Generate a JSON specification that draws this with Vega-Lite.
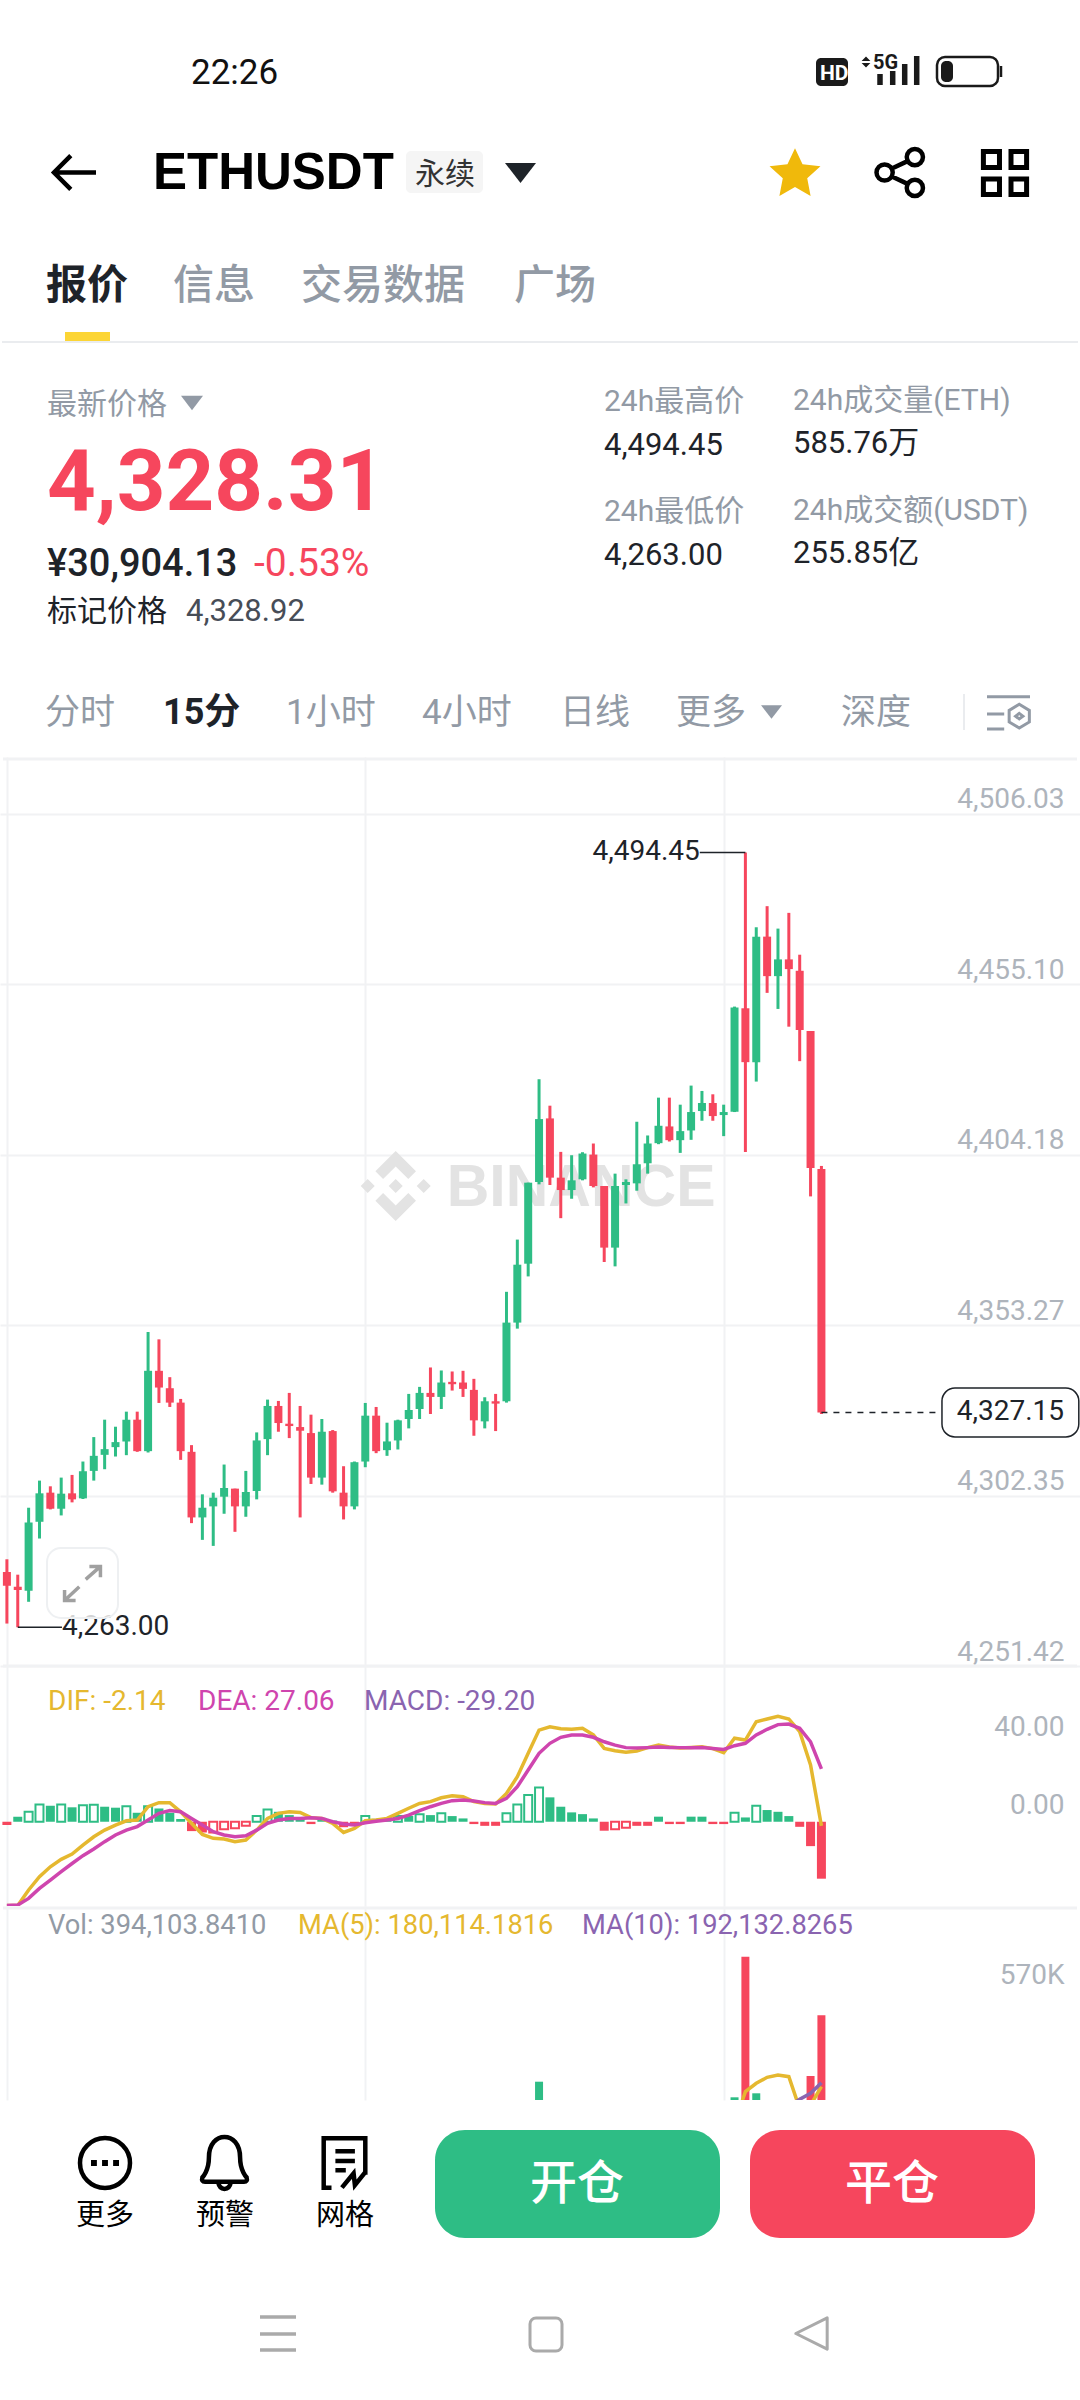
{
"$schema":"https://vega.github.io/schema/vega-lite/v6.json",
"padding":0,
"bounds":"flush",
"spacing":0,
"background":"white",
"config":{
  "view":{"stroke":null},
  "text":{"font":"Roboto, 'Noto Sans CJK SC'","align":"left","baseline":"alphabetic"},
  "axis":{"labelFont":"Roboto","labelFontSize":28,"labelColor":"#AEB4BC","gridColor":"#F1F2F4","gridWidth":2,"ticks":false,"domain":false,"labelAlign":"right","labelPadding":-16,"labelBaseline":"alphabetic","grid":false}
},
"vconcat":[
{
"width":1080,"height":757,
"data":{"values":[{}]},
"layer":[
{"mark":{"type":"text","text":"22:26","x":191,"y":84,"fontSize":35,"color":"#111111"}},
{"mark":{"type":"rect","color":"#1A1A1A","cornerRadius":5},"encoding":{"x":{"value":816},"x2":{"value":848},"y":{"value":58},"y2":{"value":86}}},
{"mark":{"type":"text","text":"HD","x":820,"y":80,"fontSize":21,"fontWeight":"bold","color":"white"}},
{"mark":{"type":"point","shape":"M0 -1 L.8 -.2 H-.8 Z M0 1 L.8 .2 H-.8 Z","size":120,"x":866,"y":62,"filled":true,"color":"#1A1A1A","opacity":1}},
{"mark":{"type":"text","text":"5G","x":873,"y":69,"fontSize":20,"fontWeight":"bold","color":"#1A1A1A"}},
{"mark":{"type":"rule","strokeWidth":5.5,"color":"#1A1A1A"},"encoding":{"x":{"value":880},"y":{"value":74},"y2":{"value":85}}},
{"mark":{"type":"rule","strokeWidth":5.5,"color":"#1A1A1A"},"encoding":{"x":{"value":892.7},"y":{"value":71},"y2":{"value":85}}},
{"mark":{"type":"rule","strokeWidth":5.5,"color":"#1A1A1A"},"encoding":{"x":{"value":904.7},"y":{"value":64},"y2":{"value":85}}},
{"mark":{"type":"rule","strokeWidth":5.5,"color":"#1A1A1A"},"encoding":{"x":{"value":916.7},"y":{"value":56},"y2":{"value":85}}},
{"mark":{"type":"rect","fill":"white","stroke":"#1A1A1A","strokeWidth":2.5,"cornerRadius":8},"encoding":{"x":{"value":937},"x2":{"value":998},"y":{"value":57},"y2":{"value":86}}},
{"mark":{"type":"rect","color":"#1A1A1A","cornerRadius":5},"encoding":{"x":{"value":941},"x2":{"value":953},"y":{"value":61},"y2":{"value":82}}},
{"mark":{"type":"rule","strokeWidth":2.5,"color":"#1A1A1A"},"encoding":{"x":{"value":1001},"y":{"value":66},"y2":{"value":77}}},

{"mark":{"type":"point","shape":"M1 0 L-1 0 M-.2 -.8 L-1 0 L-.2 .8","size":1764,"x":75,"y":172.5,"filled":false,"color":"#000000","strokeWidth":4.5,"opacity":1}},
{"mark":{"type":"text","text":"ETHUSDT","x":153,"y":189,"fontSize":51,"fontWeight":"bold","color":"#000000","font":"Liberation Sans"}},
{"mark":{"type":"rect","color":"#F5F5F5","cornerRadius":5},"encoding":{"x":{"value":406},"x2":{"value":483},"y":{"value":151},"y2":{"value":193}}},
{"mark":{"type":"text","text":"永续","x":415,"y":184,"fontSize":30,"color":"#333333"}},
{"mark":{"type":"point","shape":"M-1 -.65 L1 -.65 L0 .65 Z","size":961,"x":520.5,"y":173,"filled":true,"color":"#1E2329","opacity":1}},
{"mark":{"type":"point","shape":"M0 -.95 L.29 -.34 L.98 -.26 L.47 .2 L.6 .88 L0 .54 L-.6 .88 L-.47 .2 L-.98 -.26 L-.29 -.34 Z","size":2704,"x":795,"y":173,"filled":true,"color":"#F0B90B","opacity":1}},
{"mark":{"type":"point","shape":"M-.27 0 A.3 .3 0 1 1 -.87 0 A.3 .3 0 1 1 -.27 0 Z M.85 -.57 A.3 .3 0 1 1 .25 -.57 A.3 .3 0 1 1 .85 -.57 Z M.85 .57 A.3 .3 0 1 1 .25 .57 A.3 .3 0 1 1 .85 .57 Z M-.32 -.14 L.3 -.43 M-.32 .14 L.3 .43","size":2916,"x":900,"y":172.5,"filled":false,"color":"#000000","strokeWidth":4.5,"opacity":1}},
{"mark":{"type":"point","shape":"M-.9 -.9 H-.23 V-.23 H-.9 Z M.25 -.9 H.9 V-.23 H.25 Z M-.9 .25 H-.23 V.9 H-.9 Z M.25 .25 H.9 V.9 H.25 Z","size":2304,"x":1005,"y":173,"filled":false,"color":"#000000","strokeWidth":5,"opacity":1}},

{"mark":{"type":"text","text":"报价","x":46,"y":299,"fontSize":41,"fontWeight":"bold","color":"#1E2329"}},
{"mark":{"type":"text","text":"信息","x":173,"y":299,"fontSize":41,"fontWeight":500,"color":"#929AA5"}},
{"mark":{"type":"text","text":"交易数据","x":301,"y":299,"fontSize":41,"fontWeight":500,"color":"#929AA5"}},
{"mark":{"type":"text","text":"广场","x":514,"y":299,"fontSize":41,"fontWeight":500,"color":"#929AA5"}},
{"mark":{"type":"rect","color":"#FCD535"},"encoding":{"x":{"value":65},"x2":{"value":110},"y":{"value":332},"y2":{"value":342}}},
{"mark":{"type":"rule","color":"#EAECEF","strokeWidth":2},"encoding":{"x":{"value":2},"x2":{"value":1078},"y":{"value":342}}},

{"mark":{"type":"text","text":"最新价格","x":47,"y":414,"fontSize":30,"color":"#929AA5"}},
{"mark":{"type":"point","shape":"M-1 -.65 L1 -.65 L0 .65 Z","size":484,"x":192,"y":403,"filled":true,"color":"#929AA5","opacity":1}},
{"mark":{"type":"text","text":"4,328.31","x":47,"y":510,"fontSize":85,"fontWeight":"bold","color":"#F6465D"}},
{"mark":{"type":"text","text":"¥30,904.13","x":47,"y":576,"fontSize":38,"fontWeight":500,"color":"#1E2329"}},
{"mark":{"type":"text","text":"-0.53%","x":254,"y":576,"fontSize":39,"color":"#F6465D"}},
{"mark":{"type":"text","text":"标记价格","x":47,"y":621,"fontSize":30,"color":"#1E2329"}},
{"mark":{"type":"text","text":"4,328.92","x":186,"y":621,"fontSize":31,"color":"#474D57"}},
{"mark":{"type":"text","text":"24h最高价","x":604,"y":411,"fontSize":30,"color":"#929AA5"}},
{"mark":{"type":"text","text":"4,494.45","x":604,"y":455,"fontSize":31,"color":"#1E2329"}},
{"mark":{"type":"text","text":"24h成交量(ETH)","x":793,"y":410,"fontSize":30,"color":"#929AA5"}},
{"mark":{"type":"text","text":"585.76万","x":793,"y":453,"fontSize":31,"color":"#1E2329"}},
{"mark":{"type":"text","text":"24h最低价","x":604,"y":521,"fontSize":30,"color":"#929AA5"}},
{"mark":{"type":"text","text":"4,263.00","x":604,"y":565,"fontSize":31,"color":"#1E2329"}},
{"mark":{"type":"text","text":"24h成交额(USDT)","x":793,"y":520,"fontSize":30,"color":"#929AA5"}},
{"mark":{"type":"text","text":"255.85亿","x":793,"y":563,"fontSize":31,"color":"#1E2329"}},

{"mark":{"type":"text","text":"分时","x":45,"y":724,"fontSize":35,"color":"#929AA5"}},
{"mark":{"type":"text","text":"15分","x":163,"y":724,"fontSize":36,"fontWeight":"bold","color":"#1E2329"}},
{"mark":{"type":"text","text":"1小时","x":286,"y":724,"fontSize":35,"color":"#929AA5"}},
{"mark":{"type":"text","text":"4小时","x":422,"y":724,"fontSize":35,"color":"#929AA5"}},
{"mark":{"type":"text","text":"日线","x":560,"y":724,"fontSize":35,"color":"#929AA5"}},
{"mark":{"type":"text","text":"更多","x":676,"y":724,"fontSize":35,"color":"#929AA5"}},
{"mark":{"type":"point","shape":"M-1 -.65 L1 -.65 L0 .65 Z","size":441,"x":771.5,"y":712,"filled":true,"color":"#929AA5","opacity":1}},
{"mark":{"type":"text","text":"深度","x":841,"y":724,"fontSize":35,"color":"#929AA5"}},
{"mark":{"type":"rule","color":"#EAECEF","strokeWidth":2},"encoding":{"x":{"value":964},"y":{"value":694},"y2":{"value":730}}},
{"mark":{"type":"point","shape":"M-1 -.8 H1 M-1 0 H-.2 M-1 .7 H-.2 M.5 -.45 L.97 -.17 L.97 .37 L.5 .65 L.03 .37 L.03 -.17 Z M.5 -.03 L.67 .1 L.5 .23 L.33 .1 Z","size":1849,"x":1008.5,"y":714,"filled":false,"color":"#929AA5","strokeWidth":3,"opacity":1}}
]
},
{
"width":1080,"height":909,
"data":{"values":[
{"i":0,"open":4279.5,"high":4283.3,"low":4264.1,"close":4275.4},
{"i":1,"open":4275.1,"high":4278.7,"low":4263.0,"close":4274.1},
{"i":2,"open":4273.9,"high":4298.7,"low":4270.6,"close":4294.3},
{"i":3,"open":4294.5,"high":4306.8,"low":4289.5,"close":4303.0},
{"i":4,"open":4303.2,"high":4305.1,"low":4298.2,"close":4298.4},
{"i":5,"open":4298.4,"high":4307.7,"low":4296.4,"close":4302.9},
{"i":6,"open":4303.0,"high":4308.5,"low":4300.3,"close":4301.2},
{"i":7,"open":4301.5,"high":4312.5,"low":4301.3,"close":4309.6},
{"i":8,"open":4309.7,"high":4319.8,"low":4306.8,"close":4314.2},
{"i":9,"open":4314.5,"high":4325.0,"low":4310.2,"close":4316.2},
{"i":10,"open":4316.8,"high":4322.9,"low":4314.0,"close":4318.3},
{"i":11,"open":4318.5,"high":4327.4,"low":4314.4,"close":4325.0},
{"i":12,"open":4325.0,"high":4327.4,"low":4315.4,"close":4315.6},
{"i":13,"open":4315.6,"high":4351.2,"low":4315.2,"close":4339.6},
{"i":14,"open":4339.6,"high":4349.0,"low":4330.0,"close":4334.6},
{"i":15,"open":4334.4,"high":4337.7,"low":4328.8,"close":4330.1},
{"i":16,"open":4330.1,"high":4331.2,"low":4313.0,"close":4315.6},
{"i":17,"open":4315.4,"high":4317.4,"low":4294.1,"close":4295.8},
{"i":18,"open":4295.8,"high":4302.7,"low":4289.1,"close":4298.7},
{"i":19,"open":4299.1,"high":4303.2,"low":4287.3,"close":4301.7},
{"i":20,"open":4302.0,"high":4311.6,"low":4296.9,"close":4304.6},
{"i":21,"open":4304.4,"high":4304.4,"low":4291.5,"close":4299.1},
{"i":22,"open":4299.1,"high":4309.7,"low":4296.0,"close":4303.4},
{"i":23,"open":4303.7,"high":4321.2,"low":4301.2,"close":4318.8},
{"i":24,"open":4319.2,"high":4331.0,"low":4314.4,"close":4329.1},
{"i":25,"open":4329.1,"high":4330.6,"low":4321.4,"close":4324.0},
{"i":26,"open":4323.8,"high":4333.0,"low":4319.5,"close":4323.1},
{"i":27,"open":4322.8,"high":4329.1,"low":4295.8,"close":4321.7},
{"i":28,"open":4321.0,"high":4326.5,"low":4305.8,"close":4307.7},
{"i":29,"open":4307.7,"high":4325.2,"low":4305.6,"close":4321.4},
{"i":30,"open":4321.6,"high":4321.9,"low":4303.2,"close":4303.6},
{"i":31,"open":4303.2,"high":4311.1,"low":4295.2,"close":4299.1},
{"i":32,"open":4299.1,"high":4312.5,"low":4298.2,"close":4312.3},
{"i":33,"open":4312.5,"high":4330.0,"low":4310.8,"close":4326.2},
{"i":34,"open":4326.2,"high":4328.8,"low":4315.0,"close":4315.6},
{"i":35,"open":4315.9,"high":4324.1,"low":4314.2,"close":4318.5},
{"i":36,"open":4318.8,"high":4325.0,"low":4316.1,"close":4324.8},
{"i":37,"open":4325.2,"high":4332.7,"low":4322.4,"close":4327.9},
{"i":38,"open":4328.2,"high":4334.8,"low":4325.2,"close":4333.0},
{"i":39,"open":4333.0,"high":4340.6,"low":4326.7,"close":4331.8},
{"i":40,"open":4331.8,"high":4339.7,"low":4328.2,"close":4336.1},
{"i":41,"open":4336.3,"high":4339.4,"low":4333.7,"close":4335.6},
{"i":42,"open":4336.1,"high":4339.6,"low":4331.8,"close":4334.2},
{"i":43,"open":4333.9,"high":4337.2,"low":4320.2,"close":4324.8},
{"i":44,"open":4324.5,"high":4331.7,"low":4322.4,"close":4330.5},
{"i":45,"open":4330.5,"high":4332.7,"low":4321.6,"close":4329.8},
{"i":46,"open":4330.5,"high":4363.2,"low":4330.1,"close":4354.0},
{"i":47,"open":4354.0,"high":4378.8,"low":4352.2,"close":4371.3},
{"i":48,"open":4371.6,"high":4395.8,"low":4367.8,"close":4395.8},
{"i":49,"open":4396.0,"high":4426.7,"low":4395.3,"close":4414.8},
{"i":50,"open":4415.0,"high":4418.8,"low":4395.1,"close":4397.3},
{"i":51,"open":4397.3,"high":4405.0,"low":4385.2,"close":4393.6},
{"i":52,"open":4393.6,"high":4404.0,"low":4391.0,"close":4396.5},
{"i":53,"open":4396.8,"high":4404.9,"low":4396.5,"close":4404.5},
{"i":54,"open":4404.2,"high":4407.5,"low":4394.4,"close":4394.8},
{"i":55,"open":4394.8,"high":4394.8,"low":4372.1,"close":4376.4},
{"i":56,"open":4376.4,"high":4398.5,"low":4370.8,"close":4394.8},
{"i":57,"open":4395.1,"high":4396.8,"low":4389.6,"close":4396.0},
{"i":58,"open":4395.6,"high":4414.0,"low":4393.4,"close":4401.3},
{"i":59,"open":4401.6,"high":4409.9,"low":4398.5,"close":4407.5},
{"i":60,"open":4407.6,"high":4421.2,"low":4407.3,"close":4412.8},
{"i":61,"open":4412.6,"high":4421.2,"low":4408.1,"close":4408.5},
{"i":62,"open":4408.5,"high":4419.1,"low":4404.7,"close":4411.2},
{"i":63,"open":4411.4,"high":4424.8,"low":4408.6,"close":4416.9},
{"i":64,"open":4417.2,"high":4423.2,"low":4414.3,"close":4419.6},
{"i":65,"open":4419.6,"high":4422.2,"low":4414.3,"close":4415.7},
{"i":66,"open":4416.0,"high":4419.1,"low":4409.7,"close":4416.9},
{"i":67,"open":4417.0,"high":4448.4,"low":4416.9,"close":4448.1},
{"i":68,"open":4447.9,"high":4494.45,"low":4405.0,"close":4431.8},
{"i":69,"open":4431.8,"high":4472.1,"low":4426.0,"close":4469.3},
{"i":70,"open":4469.3,"high":4478.4,"low":4452.5,"close":4457.5},
{"i":71,"open":4457.5,"high":4471.7,"low":4447.7,"close":4462.5},
{"i":72,"open":4462.5,"high":4476.4,"low":4442.4,"close":4459.6},
{"i":73,"open":4459.1,"high":4463.9,"low":4432.1,"close":4441.4},
{"i":74,"open":4441.1,"high":4441.1,"low":4391.7,"close":4400.2},
{"i":75,"open":4399.9,"high":4400.8,"low":4326.7,"close":4327.15}
]},
"encoding":{"x":{"field":"i","type":"quantitative","title":null,"scale":{"domain":[-0.635,98.81],"nice":false,"zero":false,"padding":0},"axis":{"values":[0,33,66],"grid":true,"labels":false}}},
"layer":[
{"mark":{"type":"rule","color":"#F1F2F4","strokeWidth":3},"data":{"values":[{}]},"encoding":{"x":{"value":3},"x2":{"value":1077},"y":{"value":2}}},
{"mark":{"type":"rule","color":"#F1F2F4","strokeWidth":3},"data":{"values":[{}]},"encoding":{"x":{"value":3},"x2":{"value":1077},"y":{"value":909}}},
{"data":{"values":[{"i":35.8,"price":4394.8}]},
 "mark":{"type":"point","shape":"M0 -.2 L.2 0 L0 .2 L-.2 0 Z M-.8 -.2 L-.6 0 L-.8 .2 L-1 0 Z M.8 -.2 L1 0 L.8 .2 L.6 0 Z M0 -1 L.58 -.42 L.36 -.2 L0 -.56 L-.36 -.2 L-.58 -.42 Z M0 1 L.58 .42 L.36 .2 L0 .56 L-.36 .2 L-.58 .42 Z","size":4900,"filled":true,"color":"#E3E3E3","opacity":1},
 "encoding":{"y":{"field":"price","type":"quantitative","title":null,"scale":{"domain":[4251.42,4522.96],"nice":false,"zero":false}}}},
{"data":{"values":[{"i":40.5,"price":4388.9,"label":"BINANCE"}]},
 "mark":{"type":"text","fontSize":59,"fontWeight":"bold","color":"#E3E3E3","font":"Liberation Sans"},
 "encoding":{"y":{"field":"price","type":"quantitative","title":null,"scale":{"domain":[4251.42,4522.96],"nice":false,"zero":false}},"text":{"field":"label"}}},
{"mark":{"type":"rule","strokeWidth":3},
 "encoding":{"y":{"field":"high","type":"quantitative","title":null,"scale":{"domain":[4251.42,4522.96],"nice":false,"zero":false},"axis":{"orient":"right","values":[4251.42,4302.35,4353.27,4404.18,4455.10,4506.03],"format":",.2f","grid":true,"labelOffset":-6}},"y2":{"field":"low"},
  "color":{"condition":{"test":"datum.close<datum.open","value":"#F6465D"},"value":"#2EBD85"}}},
{"mark":{"type":"bar","size":8,"orient":"vertical"},
 "encoding":{"y":{"field":"open","type":"quantitative","title":null,"scale":{"domain":[4251.42,4522.96],"nice":false,"zero":false}},"y2":{"field":"close"},
  "color":{"condition":{"test":"datum.close<datum.open","value":"#F6465D"},"value":"#2EBD85"}}},
{"data":{"values":[{"i":68,"end":63.8,"price":4494.45,"label":"4,494.45"},{"i":1,"end":5.07,"price":4263.00,"label":"4,263.00"}]},
 "mark":{"type":"rule","color":"#1E2329","strokeWidth":1.5},
 "encoding":{"x2":{"field":"end"},"y":{"field":"price","type":"quantitative","title":null,"scale":{"domain":[4251.42,4522.96],"nice":false,"zero":false}}}},
{"data":{"values":[{"end":63.8,"price":4494.45,"label":"4,494.45"}]},
 "mark":{"type":"text","align":"right","baseline":"middle","fontSize":28,"color":"#1E2329","font":"Roboto"},
 "encoding":{"x":{"field":"end","type":"quantitative","title":null,"scale":{"domain":[-0.635,98.81],"nice":false,"zero":false,"padding":0}},"y":{"field":"price","type":"quantitative","title":null,"scale":{"domain":[4251.42,4522.96],"nice":false,"zero":false}},"text":{"field":"label"}}},
{"data":{"values":[{"end":5.07,"price":4263.00,"label":"4,263.00"}]},
 "mark":{"type":"text","align":"left","baseline":"middle","fontSize":28,"color":"#1E2329","font":"Roboto"},
 "encoding":{"x":{"field":"end","type":"quantitative","title":null,"scale":{"domain":[-0.635,98.81],"nice":false,"zero":false,"padding":0}},"y":{"field":"price","type":"quantitative","title":null,"scale":{"domain":[4251.42,4522.96],"nice":false,"zero":false}},"text":{"field":"label"}}},
{"data":{"values":[{"i":75,"end":86.0,"price":4327.15}]},
 "mark":{"type":"rule","color":"#1E2329","strokeWidth":1.5,"strokeDash":[6,6]},
 "encoding":{"x2":{"field":"end"},"y":{"field":"price","type":"quantitative","title":null,"scale":{"domain":[4251.42,4522.96],"nice":false,"zero":false}}}},
{"data":{"values":[{"i":86.1,"end":98.7,"top":4334.45,"bottom":4319.85}]},
 "mark":{"type":"rect","fill":"white","stroke":"#1E2329","strokeWidth":1.5,"cornerRadius":13},
 "encoding":{"x2":{"field":"end"},"y":{"field":"top","type":"quantitative","title":null,"scale":{"domain":[4251.42,4522.96],"nice":false,"zero":false}},"y2":{"field":"bottom"}}},
{"data":{"values":[{"end":97.34,"price":4327.15,"label":"4,327.15"}]},
 "mark":{"type":"text","align":"right","baseline":"middle","fontSize":28,"color":"#1E2329","font":"Roboto"},
 "encoding":{"x":{"field":"end","type":"quantitative","title":null,"scale":{"domain":[-0.635,98.81],"nice":false,"zero":false,"padding":0}},"y":{"field":"price","type":"quantitative","title":null,"scale":{"domain":[4251.42,4522.96],"nice":false,"zero":false}},"text":{"field":"label"}}},
{"data":{"values":[{}]},
 "mark":{"type":"rect","fill":"white","fillOpacity":0.8,"stroke":"#EEF0F2","strokeWidth":2,"cornerRadius":14},
 "encoding":{"x":{"value":47},"x2":{"value":118},"y":{"value":791},"y2":{"value":861}}},
{"data":{"values":[{}]},
 "mark":{"type":"point","shape":"M.14 -.16 L.78 -.72 M.3 -.72 H.78 V-.25 M-.14 .16 L-.78 .76 M-.78 .3 V.76 H-.3","size":2116,"filled":false,"color":"#A0A0A0","strokeWidth":3.5,"opacity":1},
 "encoding":{"x":{"value":82.5},"y":{"value":826}}}
]
},
{
"width":1080,"height":240,
"data":{"values":[
{"i":0,"dif":-43,"dea":-43,"macd":-1.7,"rising":false},
{"i":1,"dif":-43,"dea":-42.7,"macd":2.6,"rising":false},
{"i":2,"dif":-35,"dea":-39.3,"macd":5.1,"rising":true},
{"i":3,"dif":-28.2,"dea":-34.2,"macd":8.9,"rising":true},
{"i":4,"dif":-23.1,"dea":-29.9,"macd":8.2,"rising":false},
{"i":5,"dif":-19.3,"dea":-25.6,"macd":8.9,"rising":true},
{"i":6,"dif":-16.6,"dea":-21.4,"macd":7.4,"rising":false},
{"i":7,"dif":-12,"dea":-17.4,"macd":8.5,"rising":true},
{"i":8,"dif":-7.7,"dea":-14,"macd":8.7,"rising":true},
{"i":9,"dif":-4.3,"dea":-10.2,"macd":7.7,"rising":false},
{"i":10,"dif":-1.7,"dea":-6.8,"macd":7.2,"rising":false},
{"i":11,"dif":0.5,"dea":-4.3,"macd":8,"rising":true},
{"i":12,"dif":0.9,"dea":-2.5,"macd":4.6,"rising":false},
{"i":13,"dif":7.7,"dea":0.9,"macd":8,"rising":true},
{"i":14,"dif":9.8,"dea":4.3,"macd":6.8,"rising":false},
{"i":15,"dif":9.8,"dea":5.7,"macd":4.6,"rising":false},
{"i":16,"dif":5.1,"dea":5.1,"macd":1.4,"rising":false},
{"i":17,"dif":-0.8,"dea":1.7,"macd":-4.8,"rising":false},
{"i":18,"dif":-6.5,"dea":-1.7,"macd":-5.5,"rising":false},
{"i":19,"dif":-8.5,"dea":-5.1,"macd":-5.5,"rising":true},
{"i":20,"dif":-8.9,"dea":-6.8,"macd":-3.9,"rising":true},
{"i":21,"dif":-10.2,"dea":-7.7,"macd":-3.4,"rising":true},
{"i":22,"dif":-9.4,"dea":-7.2,"macd":-2,"rising":true},
{"i":23,"dif":-4.3,"dea":-4.3,"macd":2.9,"rising":true},
{"i":24,"dif":1.7,"dea":-0.8,"macd":6.3,"rising":true},
{"i":25,"dif":4.3,"dea":0.9,"macd":5.1,"rising":false},
{"i":26,"dif":5.1,"dea":1.7,"macd":3.4,"rising":false},
{"i":27,"dif":4.8,"dea":1.7,"macd":2,"rising":false},
{"i":28,"dif":2.1,"dea":2.1,"macd":-1.2,"rising":false},
{"i":29,"dif":1.7,"dea":1.7,"macd":2,"rising":false},
{"i":30,"dif":-0.8,"dea":0,"macd":0.6,"rising":false},
{"i":31,"dif":-5.5,"dea":-1.2,"macd":-2.8,"rising":false},
{"i":32,"dif":-3.4,"dea":-1.7,"macd":-2.2,"rising":false},
{"i":33,"dif":0.5,"dea":-0.5,"macd":2.9,"rising":true},
{"i":34,"dif":0.9,"dea":0.2,"macd":1.5,"rising":false},
{"i":35,"dif":1.7,"dea":0.9,"macd":1.5,"rising":false},
{"i":36,"dif":4.3,"dea":1.7,"macd":3,"rising":true},
{"i":37,"dif":6.9,"dea":3.4,"macd":3,"rising":false},
{"i":38,"dif":9.4,"dea":5.7,"macd":3.8,"rising":true},
{"i":39,"dif":10.3,"dea":7.7,"macd":3.4,"rising":false},
{"i":40,"dif":12.3,"dea":9.4,"macd":4.3,"rising":true},
{"i":41,"dif":13.3,"dea":10.8,"macd":2.9,"rising":false},
{"i":42,"dif":12.8,"dea":11.1,"macd":1.7,"rising":false},
{"i":43,"dif":10.3,"dea":10.6,"macd":-1.2,"rising":false},
{"i":44,"dif":9.4,"dea":9.8,"macd":-2.1,"rising":false},
{"i":45,"dif":9.1,"dea":9.4,"macd":-2.1,"rising":false},
{"i":46,"dif":14.5,"dea":12,"macd":4.3,"rising":true},
{"i":47,"dif":23.1,"dea":18,"macd":8.9,"rising":true},
{"i":48,"dif":35.1,"dea":26.5,"macd":13.7,"rising":true},
{"i":49,"dif":47,"dea":35.1,"macd":17.6,"rising":true},
{"i":50,"dif":48.7,"dea":40.2,"macd":12.5,"rising":false},
{"i":51,"dif":47.7,"dea":43.3,"macd":7.7,"rising":false},
{"i":52,"dif":47.4,"dea":44.5,"macd":4.8,"rising":false},
{"i":53,"dif":47.9,"dea":44.5,"macd":3.9,"rising":false},
{"i":54,"dif":44.5,"dea":43.3,"macd":1.7,"rising":false},
{"i":55,"dif":37.6,"dea":41,"macd":-4.6,"rising":false},
{"i":56,"dif":36.4,"dea":39.3,"macd":-3.8,"rising":true},
{"i":57,"dif":35.6,"dea":38,"macd":-3.1,"rising":true},
{"i":58,"dif":36.3,"dea":37.8,"macd":-2.1,"rising":false},
{"i":59,"dif":38,"dea":38,"macd":-2.1,"rising":false},
{"i":60,"dif":39.3,"dea":38.3,"macd":2.6,"rising":false},
{"i":61,"dif":38.3,"dea":38.1,"macd":-1.2,"rising":false},
{"i":62,"dif":37.8,"dea":38,"macd":-1.2,"rising":false},
{"i":63,"dif":38.1,"dea":38,"macd":2.6,"rising":false},
{"i":64,"dif":38.5,"dea":38.1,"macd":2.6,"rising":false},
{"i":65,"dif":37.5,"dea":37.6,"macd":-1.2,"rising":false},
{"i":66,"dif":35.4,"dea":37.1,"macd":-1.2,"rising":false},
{"i":67,"dif":42.8,"dea":39,"macd":4.6,"rising":true},
{"i":68,"dif":41.9,"dea":40.2,"macd":2.2,"rising":false},
{"i":69,"dif":51.3,"dea":44.5,"macd":8.2,"rising":true},
{"i":70,"dif":52.7,"dea":47.4,"macd":6,"rising":false},
{"i":71,"dif":54,"dea":49.8,"macd":5.1,"rising":false},
{"i":72,"dif":52.7,"dea":50.1,"macd":2.9,"rising":false},
{"i":73,"dif":46.2,"dea":47.9,"macd":-2.6,"rising":false},
{"i":74,"dif":29.1,"dea":41,"macd":-12.5,"rising":false},
{"i":75,"dif":-2.14,"dea":27.06,"macd":-29.2,"rising":false}
]},
"encoding":{"x":{"field":"i","type":"quantitative","title":null,"scale":{"domain":[-0.635,98.81],"nice":false,"zero":false,"padding":0},"axis":{"values":[0,33,66],"grid":true,"labels":false}}},
"layer":[
{"transform":[{"filter":"!datum.rising"}],
 "mark":{"type":"bar","size":9,"orient":"vertical"},
 "encoding":{"y":{"field":"macd","type":"quantitative","title":null,"scale":{"domain":[-43.2,79.85],"nice":false,"zero":false},"axis":{"orient":"right","values":[0,40],"format":".2f","labelOffset":-8.7}},"y2":{"datum":0},
  "color":{"condition":{"test":"datum.macd<0","value":"#F6465D"},"value":"#2EBD85"}}},
{"transform":[{"filter":"datum.rising"}],
 "mark":{"type":"bar","size":8,"orient":"vertical","fill":"white","strokeWidth":2},
 "encoding":{"y":{"field":"macd","type":"quantitative","title":null,"scale":{"domain":[-43.2,79.85],"nice":false,"zero":false}},"y2":{"datum":0},
  "stroke":{"condition":{"test":"datum.macd<0","value":"#F6465D"},"value":"#2EBD85"}}},
{"mark":{"type":"line","color":"#E5B82F","strokeWidth":3.5,"clip":true},
 "encoding":{"y":{"field":"dif","type":"quantitative","title":null,"scale":{"domain":[-43.2,79.85],"nice":false,"zero":false}}}},
{"mark":{"type":"line","color":"#CF45AE","strokeWidth":3.5,"clip":true},
 "encoding":{"y":{"field":"dea","type":"quantitative","title":null,"scale":{"domain":[-43.2,79.85],"nice":false,"zero":false}}}},
{"data":{"values":[{}]},"mark":{"type":"text","text":"DIF: -2.14","fontSize":28,"color":"#E5B82F"},"encoding":{"x":{"value":48},"y":{"value":44}}},
{"data":{"values":[{}]},"mark":{"type":"text","text":"DEA: 27.06","fontSize":28,"color":"#CF45AE"},"encoding":{"x":{"value":198},"y":{"value":44}}},
{"data":{"values":[{}]},"mark":{"type":"text","text":"MACD: -29.20","fontSize":28,"color":"#8A64B0"},"encoding":{"x":{"value":364},"y":{"value":44}}}
]
},
{
"width":1080,"height":194,
"data":{"values":[
{"i":49,"vol":195000,"dir":"up"},
{"i":67,"vol":148200,"dir":"up"},
{"i":68,"vol":570000,"dir":"down"},
{"i":69,"vol":160200,"dir":"up"},
{"i":74,"vol":212100,"dir":"down"},
{"i":75,"vol":394103.84,"dir":"down"}
]},
"encoding":{"x":{"field":"i","type":"quantitative","title":null,"scale":{"domain":[-0.635,98.81],"nice":false,"zero":false,"padding":0},"axis":{"values":[0,33,66],"grid":true,"labels":false}}},
"layer":[
{"mark":{"type":"rule","color":"#F1F2F4","strokeWidth":3},"data":{"values":[{}]},"encoding":{"x":{"value":3},"x2":{"value":1077},"y":{"value":2}}},
{"mark":{"type":"bar","size":8,"orient":"vertical","clip":true},
 "encoding":{"y":{"field":"vol","type":"quantitative","title":null,"scale":{"domain":[140100,722100],"nice":false,"zero":false},"axis":{"orient":"right","values":[570000],"labelExpr":"'570K'","labelOffset":27}},"y2":{"datum":0},
  "color":{"field":"dir","type":"nominal","scale":{"domain":["up","down"],"range":["#2EBD85","#F6465D"]},"legend":null}}},
{"data":{"values":[{"i":67,"ma5":70000},{"i":68,"ma5":165100},{"i":69,"ma5":190100},{"i":70,"ma5":208100},{"i":71,"ma5":215100},{"i":72,"ma5":210100},{"i":73,"ma5":114000},{"i":74,"ma5":125000},{"i":75,"ma5":180114.18}]},
 "mark":{"type":"line","color":"#E5B82F","strokeWidth":3.5,"clip":true},
 "encoding":{"y":{"field":"ma5","type":"quantitative","title":null,"scale":{"domain":[140100,722100],"nice":false,"zero":false}}}},
{"data":{"values":[{"i":72,"ma10":120000},{"i":73,"ma10":142100},{"i":74,"ma10":160100},{"i":75,"ma10":192132.83}]},
 "mark":{"type":"line","color":"#8A64B0","strokeWidth":3.5,"clip":true},
 "encoding":{"y":{"field":"ma10","type":"quantitative","title":null,"scale":{"domain":[140100,722100],"nice":false,"zero":false}}}},
{"data":{"values":[{}]},"mark":{"type":"text","text":"Vol: 394,103.8410","fontSize":27.3,"color":"#929AA5"},"encoding":{"x":{"value":48},"y":{"value":28}}},
{"data":{"values":[{}]},"mark":{"type":"text","text":"MA(5): 180,114.1816","fontSize":27.3,"color":"#E5B82F"},"encoding":{"x":{"value":298},"y":{"value":28}}},
{"data":{"values":[{}]},"mark":{"type":"text","text":"MA(10): 192,132.8265","fontSize":27.3,"color":"#8A64B0"},"encoding":{"x":{"value":582},"y":{"value":28}}}
]
},
{
"width":1080,"height":300,
"data":{"values":[{}]},
"layer":[
{"mark":{"type":"point","shape":"circle","size":2500,"x":105,"y":63,"filled":false,"color":"#000000","strokeWidth":4.5,"opacity":1}},
{"mark":{"type":"point","shape":"M-1 -.22 H-.58 V.22 H-1 Z M-.21 -.22 H.21 V.22 H-.21 Z M.58 -.22 H1 V.22 H.58 Z","size":784,"x":105,"y":63,"filled":true,"color":"#000000","opacity":1}},
{"mark":{"type":"point","shape":"M-.85 .55 C-.85 .55 -.6 .3 -.6 -.2 C-.6 -.75 -.3 -1 0 -1 C.3 -1 .6 -.75 .6 -.2 C.6 .3 .85 .55 .85 .55 Q.9 .72 .75 .72 H-.75 Q-.9 .72 -.85 .55 Z M-.25 .72 Q-.2 1 0 1 Q.2 1 .25 .72","size":2704,"x":224.5,"y":63,"filled":false,"color":"#000000","strokeWidth":4.5,"opacity":1}},
{"mark":{"type":"point","shape":"M-.5 .95 H-.8 V-.95 H.8 V.45 M-.35 -.45 H.4 M-.35 -.08 H.4 M-.35 .28 H.05 M-.1 .95 L.35 .4 L.4 .85 L.8 .35","size":2704,"x":344.5,"y":63,"filled":false,"color":"#000000","strokeWidth":4.5,"opacity":1}},
{"mark":{"type":"text","text":"更多","x":105,"y":125,"align":"center","fontSize":29,"color":"#000000"}},
{"mark":{"type":"text","text":"预警","x":225,"y":125,"align":"center","fontSize":29,"color":"#000000"}},
{"mark":{"type":"text","text":"网格","x":345,"y":125,"align":"center","fontSize":29,"color":"#000000"}},
{"mark":{"type":"rect","color":"#2EBD85","cornerRadius":30},"encoding":{"x":{"value":435},"x2":{"value":720},"y":{"value":30},"y2":{"value":138}}},
{"mark":{"type":"rect","color":"#F6465D","cornerRadius":30},"encoding":{"x":{"value":750},"x2":{"value":1035},"y":{"value":30},"y2":{"value":138}}},
{"mark":{"type":"text","text":"开仓","x":577,"y":85,"align":"center","baseline":"middle","fontSize":47,"fontWeight":500,"color":"white"}},
{"mark":{"type":"text","text":"平仓","x":892,"y":85,"align":"center","baseline":"middle","fontSize":47,"fontWeight":500,"color":"white"}},
{"mark":{"type":"rule","color":"#AAAAAA","strokeWidth":3.5},"encoding":{"x":{"value":260},"x2":{"value":296},"y":{"value":217}}},
{"mark":{"type":"rule","color":"#AAAAAA","strokeWidth":3.5},"encoding":{"x":{"value":260},"x2":{"value":296},"y":{"value":234}}},
{"mark":{"type":"rule","color":"#AAAAAA","strokeWidth":3.5},"encoding":{"x":{"value":260},"x2":{"value":296},"y":{"value":250}}},
{"mark":{"type":"rect","fill":"white","stroke":"#AAAAAA","strokeWidth":3,"cornerRadius":6},"encoding":{"x":{"value":530},"x2":{"value":562},"y":{"value":218},"y2":{"value":251}}},
{"mark":{"type":"point","shape":"M.95 -.95 L-.95 0 L.95 .95 Z","size":1089,"x":811.5,"y":233.5,"filled":false,"color":"#AAAAAA","strokeWidth":3,"opacity":1,"strokeJoin":"round"}}
]
}
]
}
